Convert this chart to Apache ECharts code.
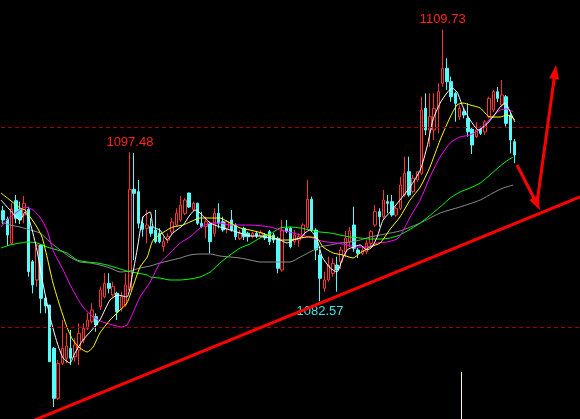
<!DOCTYPE html>
<html>
<head>
<meta charset="utf-8">
<script src="https://cdn.jsdelivr.net/npm/echarts@6/dist/echarts.min.js"></script>
<style>
html,body{margin:0;padding:0;background:#000;}
#chart{width:580px;height:419px;}
</style>
</head>
<body>
<div id="chart"></div>
<script>
// ---- candle data: [open, close, low, high] per bar ----
const openP = [1091.63,1090.77,1088.37,1092.63,1091.77,1091.2,1091.77,1086.53,1084.7,1088.2,
1082.87,1082.2,1077.87,1072.87,1076.37,1076.87,1077.87,1077.03,1077.7,1078.7,
1079.87,1080.53,1081.03,1082.03,1083.03,1084.37,1083.2,1083.37,1081.87,1082.2,
1083.7,1093.77,1093.53,1090.37,1089.87,1090.03,1089.7,1089.37,1088.03,1088.7,
1089.5,1090.2,1090.7,1091.37,1093.4,1091.77,1092.37,1090.37,1090.03,1090.37,
1089.37,1091.37,1090.53,1089.87,1090.7,1090.2,1088.87,1089.87,1089.37,1089.03,
1089.37,1089.1,1089.2,1089.53,1089.2,1088.87,1085.7,1089.87,1089.87,1088.53,
1088.7,1089.2,1089.97,1092.77,1089.7,1087.2,1083.87,1084.7,1085.37,1086.2,
1086.5,1087.5,1088.5,1090.2,1087.7,1087.37,1087.53,1088.37,1090.2,1091.53,
1091.03,1092.53,1092.53,1091.2,1091.87,1093.2,1095.53,1093.53,1094.7,1095.37,
1101.87,1099.7,1099.7,1101.87,1104.37,1105.87,1104.53,1103.37,1101.03,1101.53,
1100.87,1099.77,1099.03,1099.77,1099.5,1101.03,1101.7,1103.53,1102.2,1103.03,
1101.2,1098.53];
const closeP = [1090.7,1089.2,1091.77,1090.87,1090.7,1092.37,1085.53,1084.2,1088.2,1082.87,
1082.1,1076.53,1072.87,1076.37,1077.87,1078.1,1076.87,1078.2,1079.37,1079.87,
1080.7,1081.7,1080.2,1083.7,1084.37,1083.87,1084.03,1081.53,1083.03,1084.2,
1093.77,1093.37,1090.37,1089.77,1090.2,1089.37,1088.53,1088.53,1088.53,1089.03,
1090.5,1091.37,1092.2,1092.7,1092.0,1092.37,1090.37,1090.03,1090.53,1088.53,
1091.37,1090.37,1089.7,1090.53,1089.7,1089.03,1089.37,1089.03,1089.03,1089.37,
1089.1,1089.43,1088.9,1088.53,1088.7,1085.87,1089.7,1089.53,1088.03,1089.2,
1089.03,1090.2,1092.77,1089.7,1087.7,1084.87,1084.7,1086.2,1086.37,1085.7,
1087.7,1088.9,1089.6,1087.87,1087.37,1087.7,1088.37,1089.53,1091.53,1091.03,
1092.7,1092.37,1091.2,1091.87,1094.2,1095.37,1093.2,1094.87,1095.53,1101.7,
1099.7,1101.03,1101.87,1103.53,1105.87,1104.53,1103.03,1102.37,1101.87,1101.2,
1099.53,1098.2,1099.7,1099.37,1100.5,1102.87,1103.53,1102.87,1103.2,1100.37,
1098.7,1097.2];
const lowP = [1090.3,1088.1,1088.3,1090.37,1090.3,1090.37,1085.03,1083.37,1084.03,1081.37,
1081.37,1076.5,1072.0,1072.7,1076.2,1076.37,1076.2,1076.53,1076.2,1078.37,
1079.7,1080.37,1079.53,1081.7,1082.87,1083.37,1083.03,1080.7,1081.53,1082.03,
1083.53,1086.7,1089.87,1089.03,1088.37,1089.03,1088.37,1088.37,1087.53,1088.37,
1089.2,1090.03,1090.53,1091.2,1091.9,1091.53,1090.2,1089.87,1088.87,1087.37,
1089.03,1089.87,1089.53,1089.37,1089.53,1088.7,1088.7,1088.7,1088.53,1088.87,
1088.9,1088.9,1088.7,1088.2,1088.4,1085.37,1085.53,1089.37,1087.87,1088.2,
1088.03,1088.87,1089.7,1089.53,1086.7,1082.57,1083.53,1084.53,1085.03,1083.53,
1085.8,1087.0,1088.0,1087.53,1086.9,1087.2,1087.3,1088.03,1090.03,1090.03,
1090.87,1091.37,1091.03,1091.03,1091.7,1093.03,1093.03,1093.37,1094.53,1095.2,
1099.2,1098.03,1098.7,1099.37,1104.03,1103.7,1102.53,1100.53,1100.7,1100.87,
1099.03,1097.3,1098.9,1099.2,1099.2,1100.87,1101.5,1102.5,1102.0,1100.03,
1097.37,1096.37];
const highP = [1092.1,1091.03,1092.37,1093.2,1092.53,1093.1,1092.03,1086.7,1088.3,1088.3,
1083.03,1082.2,1078.0,1076.7,1080.7,1079.37,1079.7,1078.87,1080.37,1080.37,
1081.43,1082.37,1081.37,1084.03,1085.37,1085.37,1084.53,1083.53,1083.53,1085.37,
1097.48,1097.4,1094.7,1091.03,1091.7,1090.87,1091.7,1089.87,1089.03,1089.37,
1090.9,1091.87,1093.1,1092.87,1093.43,1092.53,1092.43,1091.53,1091.03,1090.53,
1091.87,1092.37,1091.03,1090.7,1091.7,1090.37,1089.7,1090.03,1089.53,1089.53,
1089.6,1089.7,1089.4,1089.7,1089.4,1089.03,1090.7,1090.7,1090.03,1089.7,
1089.37,1090.37,1094.7,1093.03,1089.87,1087.7,1085.53,1087.03,1086.87,1087.03,
1088.0,1089.6,1090.0,1092.03,1087.9,1088.0,1088.7,1089.7,1092.2,1091.87,
1093.7,1093.2,1093.2,1092.03,1095.03,1097.03,1097.03,1095.2,1095.53,1103.03,
1103.37,1103.37,1103.37,1104.37,1109.73,1106.87,1105.03,1103.53,1102.2,1101.87,
1102.37,1100.0,1100.5,1100.03,1100.7,1103.03,1103.7,1104.0,1104.7,1103.2,
1101.5,1098.8];
const slotCount = 137;
const categories = Array.from({length: slotCount}, (_, i) => String(i));

// ---- moving averages: [bar position, price] ----
const ma5 = [[-0.5,1092.7],[1.6,1091.7],[4.0,1090.7],[5.2,1091.5],[6.4,1090.4],[8.0,1087.7],[9.4,1084.4],[11.1,1081.0],[12.8,1078.4],[14.2,1076.9],[15.8,1076.4],[17.0,1077.4],[18.9,1078.7],[21.0,1079.7],[22.9,1080.7],[25.3,1082.7],[27.2,1083.2],[29.3,1083.0],[30.5,1085.0],[31.7,1087.7],[33.1,1091.0],[34.8,1091.5],[35.5,1090.0],[37.1,1089.7],[38.8,1088.7],[40.2,1089.4],[42.6,1090.2],[44.2,1091.2],[45.4,1091.7],[46.6,1091.4],[47.8,1090.9],[49.0,1090.4],[51.3,1090.0],[53.7,1089.7],[56.1,1089.4],[58.4,1089.1],[60.8,1089.1],[63.2,1088.9],[65.5,1088.7],[67.2,1088.4],[68.6,1088.7],[70.3,1088.9],[71.4,1089.4],[72.6,1089.7],[74.3,1088.7],[75.5,1087.0],[77.4,1085.9],[79.0,1085.5],[80.2,1086.7],[81.4,1087.7],[82.8,1088.0],[84.5,1088.2],[86.1,1087.7],[87.3,1088.0],[88.5,1089.0],[89.9,1090.7],[91.6,1091.5],[93.9,1092.7],[96.3,1094.0],[98.7,1095.7],[100.3,1098.0],[101.7,1100.7],[103.4,1102.4],[105.0,1103.4],[106.2,1103.9],[107.4,1103.5],[108.8,1102.0],[110.5,1100.7],[112.5,1099.7],[114.2,1100.2],[115.9,1101.0],[117.6,1102.0],[118.8,1102.4],[120.0,1101.5],[121.1,1100.5]];
const ma10 = [[-0.5,1093.4],[1.6,1092.7],[4.0,1091.9],[5.2,1091.7],[6.4,1091.0],[8.0,1090.0],[9.2,1089.0],[10.4,1087.0],[11.8,1084.4],[13.5,1082.0],[15.1,1080.0],[16.5,1078.7],[18.2,1077.9],[19.9,1077.5],[21.3,1078.0],[22.9,1079.4],[25.3,1080.7],[27.2,1081.5],[29.3,1082.4],[30.7,1084.0],[32.4,1086.0],[34.1,1087.0],[35.5,1088.7],[38.8,1089.7],[40.2,1090.0],[42.6,1090.2],[44.2,1090.5],[46.6,1090.9],[49.0,1090.9],[51.3,1090.9],[53.7,1090.4],[56.1,1089.9],[58.4,1089.7],[60.8,1089.45],[63.2,1089.1],[65.5,1088.7],[67.9,1088.7],[70.3,1088.9],[72.2,1089.0],[74.3,1088.9],[75.7,1088.0],[78.1,1087.4],[80.4,1087.2],[82.8,1086.9],[84.5,1087.4],[86.8,1088.0],[89.2,1088.4],[91.6,1089.8],[93.9,1091.0],[96.3,1092.7],[98.7,1094.0],[101.0,1096.0],[103.4,1098.7],[105.8,1101.0],[107.4,1102.2],[108.8,1102.4],[110.5,1102.2],[112.9,1101.9],[115.2,1101.0],[117.6,1101.0],[119.2,1101.2],[120.7,1100.9],[121.1,1100.7]];
const ma20 = [[-0.5,1090.0],[0.9,1090.7],[3.3,1091.5],[5.2,1092.0],[7.1,1091.7],[8.7,1091.0],[10.4,1089.7],[11.8,1087.7],[14.2,1085.7],[16.5,1083.7],[18.9,1082.0],[21.3,1081.0],[23.6,1080.5],[26.0,1080.2],[28.1,1080.0],[29.3,1080.2],[30.7,1081.4],[32.4,1083.0],[34.8,1084.5],[37.1,1086.4],[39.5,1087.4],[41.9,1088.4],[44.2,1089.0],[46.6,1089.9],[49.0,1090.4],[51.3,1090.4],[53.7,1090.2],[58.4,1090.2],[63.2,1090.0],[65.5,1089.7],[67.9,1089.5],[70.3,1089.2],[72.6,1089.0],[74.3,1088.7],[76.6,1088.5],[79.0,1088.4],[81.4,1088.2],[83.7,1088.0],[86.1,1088.0],[88.5,1088.4],[90.8,1088.5],[93.2,1088.8],[94.5,1089.5],[96.3,1091.0],[98.7,1092.7],[101.0,1095.0],[103.4,1097.0],[105.8,1098.4],[108.1,1099.0],[110.5,1099.2],[112.9,1099.8],[115.2,1100.8],[117.6,1101.7],[119.2,1101.8],[120.7,1101.5]];
const ma60 = [[-0.5,1087.9],[1.6,1088.2],[4.0,1088.4],[5.7,1088.5],[8.0,1088.4],[10.4,1088.0],[12.8,1087.7],[15.1,1087.4],[17.5,1086.7],[19.9,1086.5],[22.2,1086.4],[24.6,1086.2],[27.0,1085.9],[29.3,1085.6],[31.7,1085.4],[34.1,1085.2],[34.8,1085.0],[37.1,1084.9],[39.5,1084.7],[41.9,1084.7],[44.2,1084.8],[46.6,1085.0],[49.0,1085.5],[51.3,1086.4],[53.7,1087.2],[56.1,1087.9],[58.4,1088.3],[60.8,1088.9],[63.2,1089.3],[65.5,1089.9],[67.9,1090.0],[70.3,1089.9],[72.6,1089.7],[75.0,1089.5],[77.4,1089.4],[79.7,1089.2],[82.1,1089.0],[84.5,1088.9],[86.8,1088.8],[89.2,1088.8],[91.6,1088.9],[93.9,1089.2],[98.7,1090.4],[103.4,1092.0],[105.8,1092.9],[108.1,1093.5],[110.5,1093.9],[112.9,1094.4],[115.2,1095.2],[117.6,1096.1],[119.5,1096.7],[120.7,1097.0]];
const ma120 = [[-0.5,1090.5],[1.6,1090.2],[4.0,1090.0],[6.4,1089.7],[8.7,1089.4],[11.1,1088.5],[13.5,1087.7],[15.8,1087.0],[18.2,1086.5],[20.6,1086.4],[22.9,1086.2],[25.3,1085.9],[27.7,1085.5],[30.0,1085.6],[32.4,1085.9],[34.8,1086.1],[37.1,1086.4],[41.9,1086.9],[44.2,1087.2],[46.6,1087.3],[49.0,1087.3],[51.3,1087.1],[53.7,1087.0],[56.1,1086.9],[58.4,1086.7],[60.8,1086.5],[63.2,1086.5],[67.9,1086.5],[70.3,1087.0],[72.6,1087.5],[75.0,1088.0],[77.4,1088.2],[79.7,1088.4],[82.1,1088.5],[84.5,1088.7],[86.8,1089.0],[89.2,1089.2],[91.6,1089.4],[93.9,1089.6],[98.7,1090.4],[103.4,1091.4],[108.1,1092.0],[112.9,1092.7],[115.9,1093.4],[118.3,1093.9],[120.7,1094.2]];

// ---- annotations ----
const refLevels = [1100, 1080];
const trendLine = [[4, 1070.1], [136.5, 1093.0]];
const arrowDown = [[121.6, 1096.2], [126.3, 1092.3]];
const arrowUp = [[126.3, 1092.3], [130.6, 1105.5]];
const volMark = [[108.3, 1075.5], [108.3, 1070.8]];
const peakLabels = [
  {idx: 104, price: 1109.73, text: '1109.73', pos: 'top', color: '#ff2020'},
  {idx: 30, price: 1097.48, text: '1097.48', pos: 'top', color: '#ff2020'},
  {idx: 75, price: 1082.57, text: '1082.57', pos: 'bottom', color: '#40e0e0'}
];

const candleData = openP.map((o, i) => [o, closeP[i], lowP[i], highP[i]]);

const chart = echarts.init(document.getElementById('chart'), null, {renderer: 'canvas'});
const maLine = (name, data, color) => ({
  name, type: 'line', xAxisIndex: 1, data, showSymbol: false, symbol: 'none',
  smooth: 0.2, lineStyle: {color, width: 1}, silent: true, z: 3
});

chart.setOption({
  backgroundColor: '#000000',
  animation: false,
  grid: {left: 1, right: 0, top: 0, bottom: 0},
  xAxis: [
    {type: 'category', data: categories, boundaryGap: true, show: false},
    {type: 'value', min: -0.5, max: slotCount - 0.5, show: false}
  ],
  yAxis: {type: 'value', min: 1070.8, max: 1112.7, show: false, scale: true, splitLine: {show: false}},
  series: [
    {
      name: 'ref', type: 'line', xAxisIndex: 1, data: [], silent: true,
      markLine: {
        silent: true, symbol: ['none', 'none'], label: {show: false},
        lineStyle: {color: '#a00000', type: [4, 3], width: 1},
        data: refLevels.map(v => ({yAxis: v}))
      }
    },
    maLine('MA120', ma120, '#8c8c8c'),
    maLine('MA60', ma60, '#00ff00'),
    maLine('MA20', ma20, '#ff00ff'),
    maLine('MA10', ma10, '#ffff00'),
    maLine('MA5', ma5, '#ffffff'),
    {
      name: 'K', type: 'candlestick', data: candleData, barWidth: 3, z: 2,
      itemStyle: {color: '#000000', color0: '#54fcfc', borderColor: '#ff3232', borderColor0: '#54fcfc', borderWidth: 1},
      markPoint: {
        symbol: 'rect', symbolSize: 1, itemStyle: {color: 'rgba(0,0,0,0)'},
        data: peakLabels.map(p => ({
          coord: [p.idx, p.price], value: p.text,
          label: {show: true, position: p.pos, distance: 3, formatter: p.text, color: p.color,
                  fontFamily: 'Liberation Sans', fontSize: 13}
        }))
      }
    },
    {
      name: 'trend', type: 'line', xAxisIndex: 1, data: trendLine, symbol: 'none',
      lineStyle: {color: '#ff0000', width: 3}, silent: true, z: 5
    },
    {
      name: 'arrows', type: 'line', xAxisIndex: 1, data: [], silent: true, z: 6,
      markLine: {
        silent: true, symbol: ['none', 'triangle'], symbolSize: [10, 14], label: {show: false},
        lineStyle: {color: '#ff0000', width: 3, type: 'solid'},
        itemStyle: {color: '#ff0000'},
        data: [
          [{coord: arrowDown[0]}, {coord: arrowDown[1]}],
          [{coord: arrowUp[0]}, {coord: arrowUp[1]}]
        ]
      }
    },
    {
      name: 'vol', type: 'line', xAxisIndex: 1, data: [], silent: true,
      markLine: {
        silent: true, symbol: ['none', 'none'], label: {show: false},
        lineStyle: {color: '#ffff80', width: 1, type: 'solid'},
        data: [[{coord: volMark[0]}, {coord: volMark[1]}]]
      }
    }
  ]
});
</script>
</body>
</html>
